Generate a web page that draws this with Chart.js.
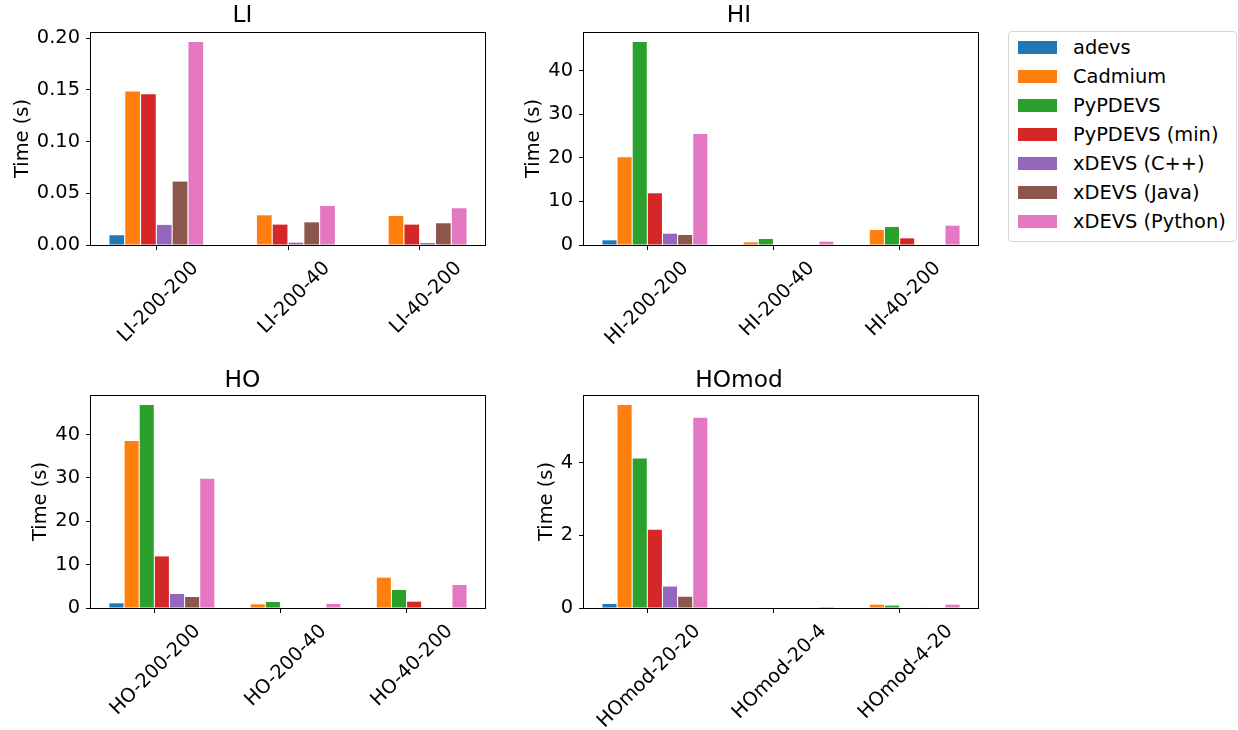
<!DOCTYPE html>
<html>
<head>
<meta charset="utf-8">
<script src="https://cdn.jsdelivr.net/npm/chart.js@4.4.1/dist/chart.umd.min.js"></script>
<style>
body { margin: 0; background: #fff; width: 1238px; height: 730px; position: relative; overflow: hidden; font-family: 'DejaVu Sans'; }
canvas { position: absolute; }
#legend { position: absolute; left: 1008px; top: 31px; width: 227px; height: 209px; border: 1px solid #d6d6d6; border-radius: 4px; }
.item { position: absolute; left: 0; height: 29px; line-height: 29px; font-size: 19.4px; color: #000; white-space: nowrap; }
.sw { position: absolute; left: 9px; top: 8px; width: 39px; height: 13px; }
.lbl { position: absolute; left: 64px; top: 0; }
</style>
</head>
<body>
<canvas id="li" width="500" height="360" style="left:0;top:0"></canvas>
<canvas id="hi" width="500" height="360" style="left:500px;top:0"></canvas>
<canvas id="ho" width="500" height="370" style="left:0;top:360px"></canvas>
<canvas id="homod" width="500" height="370" style="left:500px;top:360px"></canvas>
<div id="legend"></div>
<script>
// simulators, same order in every panel
var series = ['adevs', 'Cadmium', 'PyPDEVS', 'PyPDEVS (min)', 'xDEVS (C++)', 'xDEVS (Java)', 'xDEVS (Python)'];
var colors = ['#1f77b4', '#ff7f0e', '#2ca02c', '#d62728', '#9467bd', '#8c564b', '#e377c2'];

var liCategories = ['LI-200-200', 'LI-200-40', 'LI-40-200'];
var liTimes = [
    [0.0094, 0, 0],
    [0.1484, 0.0287, 0.0281],
    null,                       // no PyPDEVS run for LI
    [0.1458, 0.0197, 0.0197],
    [0.0194, 0.0023, 0.0019],
    [0.0613, 0.0219, 0.0210],
    [0.1961, 0.0377, 0.0355]
];

var hiCategories = ['HI-200-200', 'HI-200-40', 'HI-40-200'];
var hiTimes = [
    [1.07, 0, 0],
    [20.15, 0.6, 3.45],
    [46.6, 1.38, 4.14],
    [11.88, 0.12, 1.53],
    [2.6, 0, 0],
    [2.3, 0, 0],
    [25.5, 0.77, 4.44]
];

var hoCategories = ['HO-200-200', 'HO-200-40', 'HO-40-200'];
var hoTimes = [
    [1.08, 0, 0],
    [38.5, 0.85, 7.0],
    [46.8, 1.38, 4.15],
    [11.9, 0.12, 1.46],
    [3.23, 0, 0.12],
    [2.54, 0, 0],
    [29.8, 0.92, 5.3]
];

var homodCategories = ['HOmod-20-20', 'HOmod-20-4', 'HOmod-4-20'];
var homodTimes = [
    [0.11, 0, 0],
    [5.58, 0, 0.09],
    [4.11, 0, 0.065],
    [2.15, 0, 0],
    [0.59, 0, 0.015],
    [0.31, 0, 0],
    [5.23, 0.025, 0.09]
];

Chart.defaults.font.family = 'DejaVu Sans';
Chart.defaults.color = '#000';

// box around the plot area, like the matplotlib spines
var framePlugin = {
    id: 'frame',
    afterDraw: function (chart) {
        var a = chart.chartArea, ctx = chart.ctx;
        ctx.save();
        ctx.strokeStyle = '#000';
        ctx.lineWidth = 1;
        ctx.strokeRect(Math.round(a.left) - 0.5, Math.round(a.top) + 0.5,
            Math.round(a.right - a.left) + 1, Math.round(a.bottom - a.top));
        ctx.restore();
    }
};

function drawPanel(id, title, cats, times, cfg) {
    var datasets = [];
    var top = 0;
    if (cfg.spacer) {
        datasets.push({ label: '', data: [], backgroundColor: 'rgba(0,0,0,0)', categoryPercentage: cfg.catPct });
    }
    for (var s = 0; s < series.length; s++) {
        if (!times[s]) continue;
        var pts = [];
        for (var i = 0; i < times[s].length; i++) {
            pts.push({ x: i, y: times[s][i] });
            if (times[s][i] > top) top = times[s][i];
        }
        datasets.push({
            label: series[s],
            data: pts,
            backgroundColor: colors[s],
            borderWidth: 0,
            barPercentage: 0.93,
            categoryPercentage: cfg.catPct
        });
    }

    new Chart(document.getElementById(id), {
        type: 'bar',
        data: { datasets: datasets },
        options: {
            responsive: false,
            animation: false,
            layout: { padding: { left: 0, right: cfg.rightPad, top: 0, bottom: 0 } },
            plugins: {
                legend: { display: false },
                tooltip: { enabled: false },
                title: {
                    display: true,
                    text: title,
                    color: '#000',
                    font: { size: 23.3, weight: 'normal' },
                    padding: cfg.titlePad
                }
            },
            scales: {
                x: {
                    type: 'linear',
                    min: cfg.xMin,
                    max: cfg.xMax,
                    offset: false,
                    afterFit: function (sc) { sc.height = cfg.xHeight; },
                    ticks: {
                        stepSize: 1,
                        includeBounds: false,
                        autoSkip: false,
                        minRotation: 45,
                        maxRotation: 45,
                        padding: 7,
                        labelOffset: cfg.labelOffset,
                        font: { size: 19.4 },
                        callback: function (v) { return cats[v]; }
                    },
                    grid: { display: true, offset: false, drawOnChartArea: false, drawTicks: true, tickLength: 5, color: '#000' },
                    border: { display: false }
                },
                y: {
                    min: 0,
                    max: top * 1.05,
                    afterFit: function (sc) { sc.width = cfg.yWidth; },
                    ticks: {
                        stepSize: cfg.step,
                        includeBounds: false,
                        padding: 6,
                        font: { size: 19.4 },
                        callback: function (v) { return cfg.digits ? v.toFixed(cfg.digits) : String(v); }
                    },
                    grid: { display: true, drawOnChartArea: false, drawTicks: true, tickLength: 5, color: '#000' },
                    border: { display: false },
                    title: {
                        display: true,
                        text: 'Time (s)',
                        font: { size: 19.4 },
                        padding: { top: cfg.yTitlePad, bottom: 0 }
                    }
                }
            }
        },
        plugins: [framePlugin]
    });
}

drawPanel('li', 'LI', liCategories, liTimes, {
    spacer: false, catPct: 0.72, xMin: -0.496, xMax: 2.496, step: 0.05, digits: 2,
    yWidth: 91, rightPad: 15, yTitlePad: 11.8, xHeight: 115, labelOffset: 39,
    titlePad: { top: 1.8, bottom: 2.2 }
});
drawPanel('hi', 'HI', hiCategories, hiTimes, {
    spacer: true, catPct: 0.96, xMin: -0.502, xMax: 2.622, step: 10, digits: 0,
    yWidth: 84, rightPad: 22, yTitlePad: 22.8, xHeight: 115, labelOffset: 38,
    titlePad: { top: 1.8, bottom: 2.2 }
});
drawPanel('ho', 'HO', hoCategories, hoTimes, {
    spacer: true, catPct: 0.96, xMin: -0.502, xMax: 2.622, step: 10, digits: 0,
    yWidth: 91, rightPad: 15, yTitlePad: 29.8, xHeight: 122, labelOffset: 43,
    titlePad: { top: 7, bottom: 0 }
});
drawPanel('homod', 'HOmod', homodCategories, homodTimes, {
    spacer: true, catPct: 0.96, xMin: -0.502, xMax: 2.622, step: 2, digits: 0,
    yWidth: 84, rightPad: 22, yTitlePad: 35, xHeight: 122, labelOffset: 50,
    titlePad: { top: 7, bottom: 0 }
});

// shared legend on the right
var legend = document.getElementById('legend');
for (var k = 0; k < series.length; k++) {
    var item = document.createElement('div');
    item.className = 'item';
    item.style.top = (1.2 + 29 * k) + 'px';
    item.innerHTML = '<span class="sw" style="background:' + colors[k] + '"></span><span class="lbl"></span>';
    item.querySelector('.lbl').textContent = series[k];
    legend.appendChild(item);
}
</script>
</body>
</html>
